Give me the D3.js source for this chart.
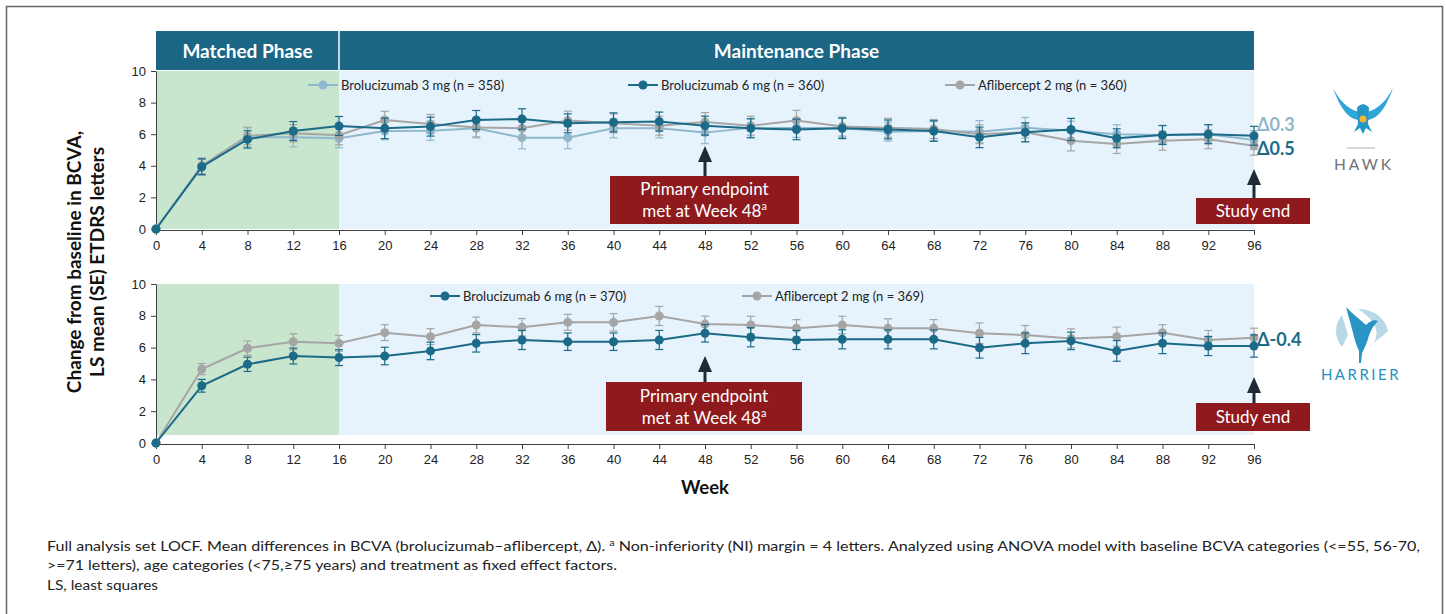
<!DOCTYPE html>
<html>
<head>
<meta charset="utf-8">
<script src="https://cdn.jsdelivr.net/npm/d3@7"></script>
<style>
  body { margin: 0; background: #fff; }
  svg { display: block; font-family: Lato, "Open Sans", "DejaVu Sans", sans-serif; }
  .axis text { font-size: 13px; fill: #222; }
  .axis path, .axis line { stroke: #404040; }
</style>
</head>
<body>
<div id="chart"></div>
<script>
// weeks and LS mean change from baseline
var weeks = [0, 4, 8, 12, 16, 20, 24, 28, 32, 36, 40, 44, 48, 52, 56, 60, 64, 68, 72, 76, 80, 84, 88, 92, 96];
var xTicks = weeks;
var yTicks = [0, 2, 4, 6, 8, 10];

// HAWK
var hawkBro3 = [0, 3.9, 5.8, 5.8, 5.74, 6.2, 6.22, 6.37, 5.78, 5.78, 6.37, 6.37, 6.1, 6.4, 6.4, 6.4, 6.16, 6.2, 6.16, 6.41, 6.22, 6.0, 5.95, 6.0, 5.63];
var hawkBro3Se = [0, 0.5, 0.6, 0.6, 0.6, 0.55, 0.6, 0.6, 0.7, 0.7, 0.6, 0.6, 0.7, 0.6, 0.6, 0.6, 0.6, 0.6, 0.7, 0.65, 0.6, 0.6, 0.6, 0.6, 0.6];
var hawkBro6 = [0, 3.94, 5.67, 6.2, 6.52, 6.37, 6.48, 6.9, 6.96, 6.69, 6.75, 6.8, 6.54, 6.37, 6.3, 6.37, 6.3, 6.2, 5.8, 6.12, 6.3, 5.74, 5.95, 6.0, 5.9];
var hawkBro6Se = [0, 0.5, 0.55, 0.6, 0.6, 0.65, 0.6, 0.6, 0.65, 0.6, 0.6, 0.6, 0.6, 0.6, 0.65, 0.65, 0.6, 0.65, 0.65, 0.6, 0.7, 0.6, 0.6, 0.6, 0.6];
var hawkAfl = [0, 4.0, 5.89, 6.06, 5.93, 6.9, 6.65, 6.43, 6.37, 6.86, 6.69, 6.54, 6.77, 6.54, 6.86, 6.48, 6.41, 6.33, 6.0, 6.12, 5.59, 5.38, 5.59, 5.68, 5.27];
var hawkAflSe = [0, 0.5, 0.55, 0.55, 0.6, 0.55, 0.6, 0.6, 0.6, 0.6, 0.6, 0.6, 0.6, 0.6, 0.65, 0.6, 0.6, 0.6, 0.6, 0.6, 0.65, 0.6, 0.6, 0.6, 0.6];

// HARRIER
var harrierBro6 = [0, 3.6, 4.95, 5.47, 5.37, 5.47, 5.79, 6.27, 6.48, 6.37, 6.37, 6.48, 6.9, 6.65, 6.48, 6.52, 6.52, 6.52, 5.99, 6.27, 6.42, 5.79, 6.27, 6.1, 6.1];
var harrierBro6Se = [0, 0.4, 0.45, 0.5, 0.5, 0.55, 0.55, 0.55, 0.6, 0.55, 0.55, 0.6, 0.55, 0.6, 0.6, 0.6, 0.6, 0.6, 0.65, 0.65, 0.55, 0.65, 0.65, 0.6, 0.7];
var harrierAfl = [0, 4.65, 5.96, 6.37, 6.27, 6.94, 6.69, 7.42, 7.28, 7.59, 7.59, 7.99, 7.48, 7.42, 7.21, 7.42, 7.21, 7.21, 6.9, 6.79, 6.58, 6.69, 6.94, 6.48, 6.62];
var harrierAflSe = [0, 0.35, 0.45, 0.5, 0.5, 0.5, 0.5, 0.5, 0.55, 0.5, 0.55, 0.6, 0.5, 0.55, 0.55, 0.55, 0.6, 0.55, 0.65, 0.6, 0.6, 0.6, 0.5, 0.6, 0.6];

var footnotes = [
  "Full analysis set LOCF. Mean differences in BCVA (brolucizumab\u2013aflibercept, \u0394). ",
  ">=71 letters), age categories (<75,\u226575 years) and treatment as fixed effect factors.",
  "LS, least squares"
];

var teal = "#1b6a88", lightBlue = "#8fb8cd", grey = "#a5a5a5", red = "#8e1a1e", navy = "#1e2a36";

var svg = d3.select("#chart").append("svg")
  .attr("width", 1446)
  .attr("height", 614);

// slide frame
svg.append("rect")
  .attr("x", 6.5).attr("y", 6.5)
  .attr("width", 1436).attr("height", 640)
  .attr("fill", "none").attr("stroke", "#666").attr("stroke-width", 1.5);

var x = d3.scaleLinear().domain([0, 96]).range([156, 1254]);

/*********************
 * PHASE HEADER
*********************/
svg.append("rect")
  .attr("x", x(0)).attr("y", 31)
  .attr("width", x(96) - x(0)).attr("height", 39)
  .attr("fill", "#1b6685");
svg.append("line")
  .attr("x1", x(16)).attr("x2", x(16))
  .attr("y1", 31).attr("y2", 70)
  .attr("stroke", "#fff").attr("stroke-width", 1.5);
svg.append("text")
  .attr("x", (x(0) + x(16)) / 2).attr("y", 57.5)
  .attr("text-anchor", "middle")
  .style("font-size", "19px").style("font-weight", "bold").style("fill", "#fff")
  .text("Matched Phase");
svg.append("text")
  .attr("x", (x(16) + x(96)) / 2).attr("y", 57.5)
  .attr("text-anchor", "middle")
  .style("font-size", "19px").style("font-weight", "bold").style("fill", "#fff")
  .text("Maintenance Phase");

/*********************
 * PANELS
*********************/
function drawPanel(p) {
  var y = d3.scaleLinear().domain([0, 10]).range([p.y0, p.y10]);
  var g = svg.append("g");

  // phase shading
  g.append("rect")
    .attr("x", x(0)).attr("y", y(10))
    .attr("width", x(16) - x(0)).attr("height", y(p.shadeLow) - y(10))
    .attr("fill", "#c8e6cd");
  g.append("rect")
    .attr("x", x(16)).attr("y", y(10))
    .attr("width", x(96) - x(16)).attr("height", y(p.shadeLow) - y(10))
    .attr("fill", "#e6f3fc");

  // axes
  g.append("g")
    .attr("class", "axis")
    .attr("transform", "translate(0," + (p.y0 + 1) + ")")
    .call(d3.axisBottom(x).tickValues(xTicks).tickSize(5).tickSizeOuter(0).tickPadding(6).tickFormat(d3.format("d")));
  g.append("g")
    .attr("class", "axis")
    .attr("transform", "translate(" + x(0) + ",0)")
    .call(d3.axisLeft(y).tickValues(yTicks).tickSize(5).tickSizeOuter(0).tickPadding(5));

  // series: error bars, lines, points
  p.series.forEach(function (s) {
    var pts = weeks.map(function (w, i) { return { w: w, v: s.values[i], se: s.se[i] }; });
    var eb = g.append("g").attr("stroke", s.color).attr("stroke-width", 1.2);
    pts.filter(function (d) { return d.se > 0; }).forEach(function (d) {
      eb.append("line").attr("x1", x(d.w)).attr("x2", x(d.w))
        .attr("y1", y(d.v - d.se)).attr("y2", y(d.v + d.se));
      eb.append("line").attr("x1", x(d.w) - 4).attr("x2", x(d.w) + 4)
        .attr("y1", y(d.v - d.se)).attr("y2", y(d.v - d.se));
      eb.append("line").attr("x1", x(d.w) - 4).attr("x2", x(d.w) + 4)
        .attr("y1", y(d.v + d.se)).attr("y2", y(d.v + d.se));
    });
    g.append("path")
      .datum(pts)
      .attr("fill", "none")
      .attr("stroke", s.color)
      .attr("stroke-width", 2)
      .attr("d", d3.line().x(function (d) { return x(d.w); }).y(function (d) { return y(d.v); }));
    g.selectAll(null)
      .data(pts)
      .enter()
      .append("circle")
      .attr("cx", function (d) { return x(d.w); })
      .attr("cy", function (d) { return y(d.v); })
      .attr("r", 4.5)
      .style("fill", s.color);

    // legend
    var ly = p.legendY;
    g.append("line").attr("x1", s.lx).attr("x2", s.lx + 30)
      .attr("y1", ly).attr("y2", ly)
      .attr("stroke", s.color).attr("stroke-width", 2);
    g.append("circle").attr("cx", s.lx + 15).attr("cy", ly).attr("r", 4.5).style("fill", s.color);
    g.append("text").attr("x", s.lx + 33).attr("y", ly + 4.5)
      .style("font-size", "13px").style("fill", "#222")
      .text(s.name);
  });

  // delta labels
  p.deltas.forEach(function (d) {
    g.append("text").attr("x", x(96) + 3).attr("y", d.y)
      .style("font-size", "18px").style("font-weight", "bold").style("fill", d.color)
      .text(d.text);
  });

  // annotation boxes with arrows
  function callout(cx, boxX0, boxX1, boxTop, boxBottom, tipY, lines) {
    g.append("rect")
      .attr("x", boxX0).attr("y", boxTop)
      .attr("width", boxX1 - boxX0).attr("height", boxBottom - boxTop)
      .attr("fill", red);
    g.append("line")
      .attr("x1", cx).attr("x2", cx)
      .attr("y1", boxTop).attr("y2", tipY + 14)
      .attr("stroke", navy).attr("stroke-width", 3);
    g.append("path")
      .attr("d", "M" + (cx - 7) + "," + (tipY + 16) + "L" + cx + "," + tipY + "L" + (cx + 7) + "," + (tipY + 16) + "Z")
      .attr("fill", navy);
    var n = lines.length;
    var mid = (boxTop + boxBottom) / 2;
    lines.forEach(function (ln, i) {
      var t = g.append("text")
        .attr("x", (boxX0 + boxX1) / 2)
        .attr("y", mid + 6 + (i - (n - 1) / 2) * 22)
        .attr("text-anchor", "middle")
        .style("font-size", "17px").style("fill", "#fff");
      t.append("tspan").text(ln.text);
      if (ln.sup) t.append("tspan").attr("dy", -7).style("font-size", "11px").text(ln.sup);
    });
  }
  callout(x(48), p.pe[0], p.pe[1], p.pe[2], p.pe[3], p.pe[4],
    [{ text: "Primary endpoint" }, { text: "met at Week 48", sup: "a" }]);
  callout(x(96), 1196, 1310, p.se[0], p.se[1], p.se[2], [{ text: "Study end" }]);
}

drawPanel({
  y0: 229, y10: 71, shadeLow: 0, legendY: 85,
  series: [
    { name: "Brolucizumab 3 mg  (n = 358)", values: hawkBro3, se: hawkBro3Se, color: lightBlue, lx: 308 },
    { name: "Aflibercept 2 mg (n = 360)", values: hawkAfl, se: hawkAflSe, color: grey, lx: 945 },
    { name: "Brolucizumab 6 mg (n = 360)", values: hawkBro6, se: hawkBro6Se, color: teal, lx: 628 }
  ],
  deltas: [
    { text: "\u03940.3", y: 131, color: lightBlue },
    { text: "\u03940.5", y: 155, color: teal }
  ],
  pe: [610, 799, 176, 224, 146],
  se: [198, 224, 169]
});

drawPanel({
  y0: 443, y10: 284, shadeLow: 0.5, legendY: 296,
  series: [
    { name: "Aflibercept 2 mg (n = 369)", values: harrierAfl, se: harrierAflSe, color: grey, lx: 742 },
    { name: "Brolucizumab 6 mg (n = 370)", values: harrierBro6, se: harrierBro6Se, color: teal, lx: 430 }
  ],
  deltas: [
    { text: "\u0394-0.4", y: 346, color: teal }
  ],
  pe: [606, 802, 382, 431, 356],
  se: [403, 431, 377]
});

/*********************
 * AXIS TITLES
*********************/
svg.append("text")
  .attr("transform", "translate(81,262) rotate(-90)")
  .attr("text-anchor", "middle")
  .style("font-size", "19px").style("font-weight", "bold").style("fill", "#111")
  .text("Change from baseline in BCVA,");
svg.append("text")
  .attr("transform", "translate(104,262) rotate(-90)")
  .attr("text-anchor", "middle")
  .style("font-size", "19px").style("font-weight", "bold").style("fill", "#111")
  .text("LS mean (SE) ETDRS letters");
svg.append("text")
  .attr("x", x(48)).attr("y", 494)
  .attr("text-anchor", "middle")
  .style("font-size", "18.5px").style("font-weight", "bold").style("fill", "#111")
  .text("Week");

/*********************
 * LOGOS (simplified)
*********************/
var hawk = svg.append("g").attr("transform", "translate(1363,112)");
hawk.append("path")
  .attr("d", "M-30,-24 C-22,-8 -12,-2 -4,0 L-6,6 C-15,4 -24,-6 -30,-24 Z M30,-24 C22,-8 12,-2 4,0 L6,6 C15,4 24,-6 30,-24 Z")
  .attr("fill", "#2ea6d8");
hawk.append("path")
  .attr("d", "M-25,-12 C-17,-2 -10,2 -4,4 L-5,8 C-12,7 -20,0 -25,-12 Z M25,-12 C17,-2 10,2 4,4 L5,8 C12,7 20,0 25,-12 Z")
  .attr("fill", "#2ea6d8");
hawk.append("path")
  .attr("d", "M-6,-4 C-3,-9 3,-9 6,-4 L5,12 L9,20 L3,16 L0,22 L-3,16 L-9,20 L-5,12 Z")
  .attr("fill", "#2496c8");
hawk.append("circle").attr("cx", 0).attr("cy", 7).attr("r", 3.5).attr("fill", "#f2b630");
svg.append("line").attr("x1", 1347).attr("x2", 1375).attr("y1", 148).attr("y2", 148)
  .attr("stroke", "#a9b0b6").attr("stroke-width", 1);
svg.append("text").attr("x", 1364).attr("y", 170).attr("text-anchor", "middle")
  .style("font-size", "15.5px").style("letter-spacing", "3px").style("fill", "#6f7275")
  .text("HAWK");

var harrier = svg.append("g").attr("transform", "translate(1360,335)");
harrier.append("path")
  .attr("d", "M-18,-20 C-26,-10 -26,2 -18,12 L-12,0 Z M-2,-26 C14,-26 26,-16 28,-4 C24,0 18,4 14,8 C18,0 20,-12 -2,-26 Z")
  .attr("fill", "#b7d9e6");
harrier.append("path")
  .attr("d", "M-14,-28 C-6,-20 2,-14 6,-10 C10,-14 14,-16 18,-14 C14,-10 10,-4 8,4 C6,10 4,14 2,18 L1,28 L-1,28 L-1,16 C-4,10 -6,2 -8,-6 C-10,-14 -12,-20 -14,-28 Z")
  .attr("fill", "#2a95c4");
svg.append("text").attr("x", 1361).attr("y", 380).attr("text-anchor", "middle")
  .style("font-size", "15px").style("letter-spacing", "2.5px").style("fill", "#2a8ec0")
  .text("HARRIER");

/*********************
 * FOOTNOTES
*********************/
var fn1 = svg.append("text").attr("x", 47).attr("y", 551)
  .attr("textLength", 1373).attr("lengthAdjust", "spacingAndGlyphs")
  .style("font-size", "13.5px").style("fill", "#222");
fn1.append("tspan").text(footnotes[0]);
fn1.append("tspan").attr("dy", -5).style("font-size", "9px").text("a");
fn1.append("tspan").attr("dy", 5).text(" Non-inferiority (NI) margin = 4 letters. Analyzed using ANOVA model with baseline BCVA categories (<=55, 56-70,");
svg.append("text").attr("x", 47).attr("y", 570)
  .attr("textLength", 570).attr("lengthAdjust", "spacingAndGlyphs")
  .style("font-size", "13.5px").style("fill", "#222")
  .text(footnotes[1]);
svg.append("text").attr("x", 47).attr("y", 590)
  .attr("textLength", 111).attr("lengthAdjust", "spacingAndGlyphs")
  .style("font-size", "13.5px").style("fill", "#222")
  .text(footnotes[2]);
</script>
</body>
</html>
